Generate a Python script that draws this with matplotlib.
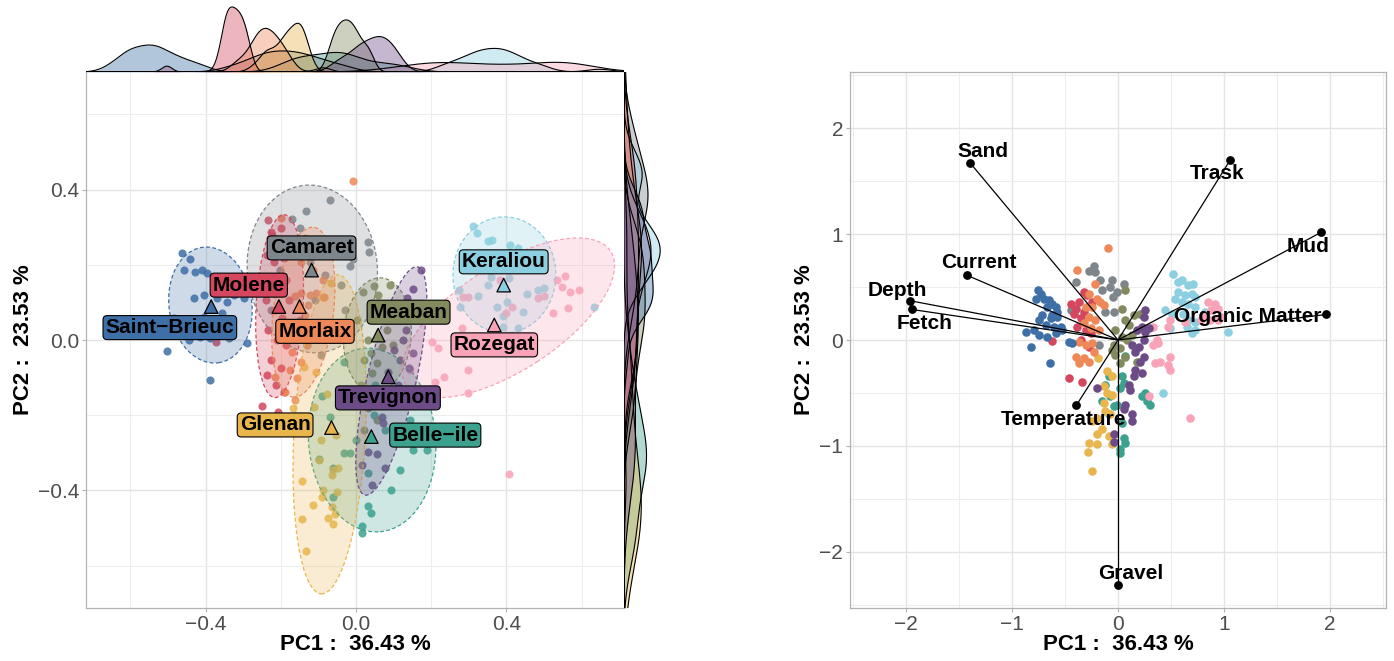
import numpy as np
import matplotlib
matplotlib.use('Agg')
import matplotlib.pyplot as plt
from matplotlib.patches import Ellipse
from matplotlib import ticker

plt.rcParams['font.family'] = ['Liberation Sans', 'DejaVu Sans']

# sites (alphabetical, as in the legend order of the original)
sites = ['Belle−ile', 'Camaret', 'Glenan', 'Keraliou', 'Meaban',
         'Molene', 'Morlaix', 'Rozegat', 'Saint−Brieuc', 'Trevignon']
site_cols = ['#3CA18F', '#7E868C', '#E8B64C', '#8BCFE0', '#838A5E',
             '#D4475E', '#EF8858', '#F9A3B8', '#3E6FA6', '#6C4B87']

# ---- left panel: individual scores (PC1, PC2) ----
bi_pc1 = [-0.089, -0.068, -0.033, -0.017, -0.097, -0.060, -0.062, 0.031, 0.039, 0.015, 0.017,
          0.153, 0.188, 0.047, 0.033, -0.033, 0.078, 0.118, -0.001, 0.092, 0.145, 0.052]
bi_pc2 = [-0.149, -0.205, -0.301, -0.301, -0.316, -0.340, -0.418, -0.441, -0.460, -0.495, -0.513,
          -0.293, -0.293, -0.199, -0.354, -0.059, -0.239, -0.346, -0.266, -0.399, -0.213, -0.120]
ca_pc1 = [-0.134, -0.169, -0.148, -0.068, 0.033, 0.036, -0.017, -0.007, -0.094, -0.055, -0.121,
          -0.081, -0.041, -0.174, -0.201, -0.108, -0.028, -0.148, -0.068, -0.129, -0.094, -0.227]
ca_pc2 = [0.343, 0.322, 0.298, 0.372, 0.261, 0.234, 0.197, 0.215, 0.266, 0.226, 0.207,
          0.173, 0.146, 0.253, 0.186, 0.106, 0.080, 0.053, 0.027, -0.013, -0.040, 0.080]
gl_pc1 = [-0.067, -0.087, -0.106, -0.138, -0.078, -0.168, -0.112, -0.052, -0.098, -0.061, -0.047, -0.063,
          -0.143, -0.087, -0.089, -0.050, -0.114, -0.063, -0.143, -0.075, -0.056, -0.061, -0.132, -0.093]
gl_pc2 = [0.152, 0.114, -0.085, -0.072, -0.144, -0.181, -0.178, -0.253, -0.319, -0.346, -0.340, -0.359,
          -0.375, -0.399, -0.418, -0.404, -0.439, -0.444, -0.476, -0.473, -0.463, -0.489, -0.561, -0.266]
ke_pc1 = [0.312, 0.323, 0.350, 0.363, 0.411, 0.430, 0.358, 0.406, 0.352, 0.275, 0.326,
          0.403, 0.376, 0.278, 0.456, 0.485, 0.499, 0.445, 0.390, 0.432, 0.392, 0.632]
ke_pc2 = [0.303, 0.285, 0.263, 0.266, 0.253, 0.245, 0.168, 0.165, 0.146, 0.133, 0.117,
          0.101, 0.088, 0.088, 0.122, 0.133, 0.138, 0.074, 0.064, 0.032, 0.035, 0.088]
me_pc1 = [0.049, 0.059, 0.091, 0.018, 0.073, 0.039, 0.099, 0.033, 0.070, 0.039, 0.021,
          0.056, 0.044, 0.013, 0.033, 0.082, 0.004, 0.099, 0.065, 0.021, 0.056]
me_pc2 = [0.144, 0.120, 0.146, 0.128, 0.093, 0.066, 0.059, 0.000, -0.019, -0.035, -0.053,
          -0.061, -0.088, -0.120, -0.181, 0.027, 0.053, -0.013, -0.146, -0.239, -0.213]
mo_pc1 = [-0.234, -0.225, -0.200, -0.236, -0.219, -0.192, -0.229, -0.207, -0.185, -0.239, -0.214, -0.196,
          -0.234, -0.210, -0.185, -0.225, -0.200, -0.236, -0.213, -0.192, -0.251, -0.208, -0.371, -0.178, -0.222]
mo_pc2 = [0.319, 0.287, 0.298, 0.226, 0.207, 0.218, 0.146, 0.133, 0.160, 0.106, 0.080, 0.059,
          0.027, 0.000, -0.013, -0.053, -0.074, -0.093, -0.120, -0.138, -0.176, -0.191, -0.005, 0.106, 0.279]
ml_pc1 = [-0.009, -0.200, -0.136, -0.107, -0.145, -0.114, -0.088, -0.162, -0.145, -0.122, -0.105, -0.085,
          -0.136, -0.110, -0.159, -0.131, -0.171, -0.145, -0.214, -0.176, -0.157, -0.188, -0.162, -0.128]
ml_pc2 = [0.423, 0.324, 0.271, 0.253, 0.207, 0.186, 0.160, 0.117, 0.125, 0.120, 0.125, 0.114,
          0.066, 0.040, 0.021, -0.013, -0.032, -0.059, -0.098, -0.080, -0.101, -0.138, -0.160, 0.093]
ro_pc1 = [0.536, 0.557, 0.549, 0.570, 0.592, 0.565, 0.525, 0.499, 0.485, 0.416, 0.398, 0.286,
          0.299, 0.283, 0.203, 0.217, 0.299, 0.233, 0.211, 0.384, 0.297, 0.408, 0.145]
ro_pc2 = [0.160, 0.170, 0.141, 0.128, 0.133, 0.085, 0.072, 0.117, 0.112, 0.088, 0.072, 0.114,
          0.114, 0.032, -0.005, -0.021, -0.080, -0.098, -0.112, 0.160, -0.141, -0.356, -0.080]
sb_pc1 = [-0.462, -0.442, -0.458, -0.427, -0.409, -0.396, -0.431, -0.405, -0.369, -0.343, -0.325, -0.298, -0.356,
          -0.405, -0.458, -0.471, -0.445, -0.414, -0.387, -0.338, -0.289, -0.502, -0.389, -0.374, -0.485]
sb_pc2 = [0.232, 0.215, 0.186, 0.182, 0.186, 0.177, 0.111, 0.120, 0.111, 0.102, 0.120, 0.111, 0.071,
          0.062, 0.035, 0.013, 0.000, 0.009, 0.005, 0.005, -0.009, -0.029, -0.106, 0.049, 0.058]
tr_pc1 = [0.172, 0.153, 0.137, 0.158, 0.118, 0.126, 0.153, 0.140, 0.100, 0.113, 0.092,
          0.070, 0.073, 0.105, 0.057, 0.031, 0.078, 0.017, 0.044, 0.118, 0.132, 0.086]
tr_pc2 = [0.186, 0.136, 0.112, 0.080, 0.053, 0.000, -0.035, -0.074, -0.027, -0.120, -0.160,
          -0.205, -0.221, -0.253, -0.303, -0.298, -0.340, -0.332, -0.386, -0.053, 0.027, -0.085]

# site centroids (triangles)
cent_pc1 = [0.041, -0.118, -0.065, 0.393, 0.059, -0.205, -0.150, 0.368, -0.385, 0.086]
cent_pc2 = [-0.257, 0.186, -0.233, 0.146, 0.013, 0.089, 0.089, 0.040, 0.089, -0.098]

# 95% ellipses: centre, axes lengths, rotation (deg)
ell_cx = [0.043, -0.116, -0.070, 0.395, 0.057, -0.203, -0.140, 0.405, -0.387, 0.094]
ell_cy = [-0.266, 0.189, -0.251, 0.173, 0.013, 0.090, 0.074, 0.059, 0.093, -0.109]
ell_w = [0.338, 0.346, 0.190, 0.274, 0.180, 0.125, 0.160, 0.650, 0.220, 0.130]
ell_h = [0.490, 0.447, 0.850, 0.309, 0.305, 0.487, 0.455, 0.280, 0.310, 0.623]
ell_ang = [5, 5, -3, 0, -4, -3, -7, 33, 8, -13]

# ---- right panel: biplot scores ----
bi_b1 = [0.038, 0.053, 0.022, -0.119, -0.088, -0.041, -0.009, -0.088, 0.038, 0.053,
         0.022, 0.069, 0.225, 0.272, 0.303, 0.256, -0.072, -0.150, 0.069, 0.020]
bi_b2 = [-0.344, -0.406, -0.453, -0.422, -0.344, -0.625, -0.609, -0.703, -0.781, -0.922,
         -1.031, -0.969, -0.531, -0.578, -0.609, -0.500, -0.531, -0.578, -0.150, -1.070]
ca_b1 = [-0.228, -0.275, -0.213, -0.400, -0.166, -0.056, -0.072, 0.053, -0.009, -0.050,
         -0.119, -0.041, -0.447, -0.181, -0.150]
ca_b2 = [0.703, 0.656, 0.641, 0.547, 0.563, 0.563, 0.500, 0.531, 0.453, 0.406,
         0.266, 0.266, 0.281, -0.047, 0.469]
gl_b1 = [-0.103, -0.056, -0.134, -0.056, -0.103, -0.197, -0.244, -0.119, -0.072, -0.150,
         -0.088, -0.056, -0.275, -0.197, -0.188, -0.134, -0.250, -0.200, -0.280]
gl_b2 = [-0.297, -0.344, -0.438, -0.516, -0.500, -0.734, -0.766, -0.672, -0.703, -0.844,
         -0.906, -0.984, -0.969, -0.891, -0.166, -0.594, -1.240, -0.980, -1.060]
ke_b1 = [0.522, 0.569, 0.600, 0.663, 0.709, 0.569, 0.631, 0.694, 0.538, 0.600, 0.663, 0.725, 0.444,
         0.506, 0.616, 0.663, 0.819, 0.725, 0.834, 0.647, 0.725, 0.694, 0.491, 0.428, 1.040, 0.730]
ke_b2 = [0.625, 0.547, 0.563, 0.516, 0.531, 0.453, 0.422, 0.438, 0.391, 0.359, 0.344, 0.313, 0.281,
         0.250, 0.250, 0.188, 0.266, 0.172, 0.219, 0.125, 0.094, 0.063, 0.109, -0.500, 0.080, 0.410]
me_b1 = [0.063, 0.038, 0.069, 0.100, 0.147, -0.025, 0.038, 0.084, -0.041, 0.022, 0.069,
         -0.025, 0.022, 0.178, 0.131, 0.209, -0.056]
me_b2 = [0.475, 0.297, 0.188, 0.141, 0.234, 0.094, 0.031, 0.000, -0.047, -0.078, -0.156,
         -0.141, -0.219, -0.203, 0.047, 0.250, -0.094]
mo_b1 = [-0.322, -0.291, -0.369, -0.447, -0.400, -0.322, -0.353, -0.384, -0.306, -0.259,
         -0.619, -0.463, -0.338, -0.275, -0.353, -0.244, -0.416]
mo_b2 = [0.453, 0.422, 0.359, 0.338, 0.297, 0.266, 0.203, 0.125, 0.094, 0.063,
         -0.009, -0.359, -0.400, -0.063, 0.000, 0.359, 0.250]
ml_b1 = [-0.094, -0.384, -0.213, -0.275, -0.197, -0.244, -0.166, -0.306, -0.275, -0.213, -0.322,
         -0.259, -0.181, -0.369, -0.306, -0.244, -0.400, -0.322, -0.275, -0.369, -0.228, -0.134]
ml_b2 = [0.869, 0.663, 0.525, 0.438, 0.391, 0.313, 0.359, 0.313, 0.219, 0.188, 0.156,
         0.109, 0.094, -0.016, -0.047, -0.031, -0.156, -0.172, -0.203, -0.219, -0.109, 0.328]
ro_b1 = [0.850, 0.913, 0.944, 0.881, 0.819, 0.866, 0.944, 0.975, 0.788, 0.631, 0.491, 0.475,
         0.334, 0.366, 0.334, 0.381, 0.350, 0.491, 0.475, 0.491, 0.397, 0.678, 0.288]
ro_b2 = [0.359, 0.344, 0.297, 0.281, 0.234, 0.188, 0.188, 0.219, 0.188, 0.172, 0.188, 0.125,
         0.125, 0.000, -0.047, -0.031, -0.219, -0.156, -0.234, -0.281, -0.203, -0.734, -0.531]
sb_b1 = [-0.759, -0.728, -0.697, -0.650, -0.619, -0.588, -0.666, -0.713, -0.634, -0.572, -0.744, -0.681, -0.603,
         -0.541, -0.791, -0.869, -0.744, -0.666, -0.588, -0.822, -0.463, -0.431, -0.644, -0.572, -0.775, -0.619, -0.525]
sb_b2 = [0.475, 0.438, 0.391, 0.375, 0.344, 0.313, 0.313, 0.234, 0.203, 0.219, 0.188, 0.141, 0.125,
         0.125, 0.094, 0.078, 0.047, 0.031, 0.063, -0.063, -0.016, -0.031, -0.219, 0.266, 0.391, 0.234, 0.094]
tr_b1 = [0.256, 0.241, 0.225, 0.178, 0.256, 0.131, 0.194, 0.163, 0.241, 0.209, 0.163, 0.147,
         0.225, 0.100, 0.116, 0.069, 0.053, 0.131, -0.041, -0.197, 0.241, 0.288, -0.040, 0.130]
tr_b2 = [0.281, 0.219, 0.125, 0.094, 0.078, -0.047, -0.063, -0.109, -0.156, -0.203, -0.281, -0.344,
         -0.313, -0.422, -0.469, -0.609, -0.656, -0.703, -0.891, -0.453, 0.000, 0.109, -0.960, -0.760]

# variable loadings
var_names = ['Sand', 'Trask', 'Mud', 'Organic Matter', 'Current', 'Depth', 'Fetch', 'Temperature', 'Gravel']
load_pc1 = [-1.393, 1.059, 1.917, 1.967, -1.426, -1.960, -1.944, -0.393, 0.000]
load_pc2 = [1.668, 1.699, 1.016, 0.241, 0.611, 0.370, 0.288, -0.616, -2.314]

pc1_list = [bi_pc1, ca_pc1, gl_pc1, ke_pc1, me_pc1, mo_pc1, ml_pc1, ro_pc1, sb_pc1, tr_pc1]
pc2_list = [bi_pc2, ca_pc2, gl_pc2, ke_pc2, me_pc2, mo_pc2, ml_pc2, ro_pc2, sb_pc2, tr_pc2]
b1_list = [bi_b1, ca_b1, gl_b1, ke_b1, me_b1, mo_b1, ml_b1, ro_b1, sb_b1, tr_b1]
b2_list = [bi_b2, ca_b2, gl_b2, ke_b2, me_b2, mo_b2, ml_b2, ro_b2, sb_b2, tr_b2]

# label placement (repelled positions)
site_lab_x = [0.211, -0.118, -0.215, 0.393, 0.140, -0.285, -0.109, 0.368, -0.495, 0.085]
site_lab_y = [-0.253, 0.245, -0.226, 0.208, 0.074, 0.146, 0.023, -0.013, 0.033, -0.154]
var_lab_x = [-1.277, 0.934, 1.792, 1.221, -1.310, -2.086, -1.822, -0.518, 0.116]
var_lab_y = [1.780, 1.574, 0.887, 0.226, 0.730, 0.470, 0.157, -0.748, -2.200]


def kde_nrd0(v, grid):
    v = np.asarray(v)
    sd = v.std(ddof=1)
    iqr = np.subtract(*np.percentile(v, [75, 25]))
    bw = 0.9 * min(sd, iqr / 1.34) * len(v) ** -0.2
    z = (grid[:, None] - v[None, :]) / bw
    return np.exp(-0.5 * z ** 2).sum(axis=1) / (len(v) * bw * np.sqrt(2 * np.pi))


def minus_fmt(fmt):
    return ticker.FuncFormatter(lambda v, p: fmt.format(v).replace('-', '\u2212'))


def style_axes(a, major, minor, fmt):
    a.set_xticks(major)
    a.set_yticks(major)
    a.set_xticks(minor, minor=True)
    a.set_yticks(minor, minor=True)
    a.xaxis.set_major_formatter(minus_fmt(fmt))
    a.yaxis.set_major_formatter(minus_fmt(fmt))
    a.grid(True, which='major', color='#E4E4E4', lw=1.0)
    a.grid(True, which='minor', color='#EDEDED', lw=0.8)
    a.set_axisbelow(True)
    a.tick_params(which='major', labelsize=15, labelcolor='#4D4D4D', color='#B3B3B3',
                  length=3, width=0.8, pad=2)
    a.tick_params(which='minor', length=0)


fig = plt.figure(figsize=(13.94, 6.61), dpi=100)
ax = fig.add_axes([0.06169, 0.08018, 0.38594, 0.81089])
ax_top = fig.add_axes([0.06169, 0.89107, 0.38594, 0.10136])
ax_rt = fig.add_axes([0.44763, 0.08018, 0.02726, 0.81089])
ax2 = fig.add_axes([0.60976, 0.08018, 0.38451, 0.81089])

# ---- left: scores + ellipses ----
for i, s in enumerate(sites):
    ax.scatter(pc1_list[i], pc2_list[i], s=34, color=site_cols[i], alpha=0.85, lw=0, zorder=2)
for i, s in enumerate(sites):
    ax.add_patch(Ellipse((ell_cx[i], ell_cy[i]), ell_w[i], ell_h[i], angle=ell_ang[i],
                         fc=site_cols[i], ec='none', alpha=0.25, zorder=3))
    ax.add_patch(Ellipse((ell_cx[i], ell_cy[i]), ell_w[i], ell_h[i], angle=ell_ang[i],
                         fill=False, ec=site_cols[i], ls=(0, (3, 2)), lw=0.9, zorder=3))
ax.scatter(cent_pc1, cent_pc2, marker='^', s=95, c=site_cols, edgecolors='black', lw=0.9, zorder=4)
for i, s in enumerate(sites):
    ax.text(site_lab_x[i], site_lab_y[i], s, ha='center', va='center', fontsize=15,
            fontweight='bold', zorder=5,
            bbox=dict(boxstyle='round,pad=0.12,rounding_size=0.2', fc=site_cols[i], ec='black', lw=0.8))

ax.set_xlim(-0.718, 0.713)
ax.set_ylim(-0.713, 0.713)
style_axes(ax, [-0.4, 0.0, 0.4], [-0.6, -0.2, 0.2, 0.6], '{:.1f}')
for side in ['top', 'right']:
    ax.spines[side].set_visible(False)
for side in ['left', 'bottom']:
    ax.spines[side].set_color('#B3B3B3')
    ax.spines[side].set_linewidth(0.9)
ax.set_xlabel('PC1 :  36.43 %', fontsize=16, fontweight='bold', labelpad=0)
ax.set_ylabel('PC2 :  23.53 %', fontsize=16, fontweight='bold', labelpad=3)

# ---- marginal densities (own scales, 5% expansion, density over full scale) ----
all_x = np.concatenate(pc1_list)
all_y = np.concatenate(pc2_list)
rx = all_x.max() - all_x.min()
ry = all_y.max() - all_y.min()
xlo, xhi = all_x.min() - 0.05 * rx, all_x.max() + 0.05 * rx
ylo, yhi = all_y.min() - 0.05 * ry, all_y.max() + 0.05 * ry
gx = np.linspace(xlo, xhi, 600)
gy = np.linspace(ylo, yhi, 600)
dmax_x = 0
dmax_y = 0
for i, s in enumerate(sites):
    dx = kde_nrd0(pc1_list[i], gx)
    dy = kde_nrd0(pc2_list[i], gy)
    dmax_x = max(dmax_x, dx.max())
    dmax_y = max(dmax_y, dy.max())
    ax_top.fill_between(gx, 0, dx, color=site_cols[i], alpha=0.4, lw=0)
    ax_top.plot(gx, dx, color='black', lw=0.8)
    ax_rt.fill_betweenx(gy, 0, dy, color=site_cols[i], alpha=0.4, lw=0)
    ax_rt.plot(dy, gy, color='black', lw=0.8)
ax_top.set_xlim(xlo, xhi)
ax_top.set_ylim(0, dmax_x * 1.03)
ax_rt.set_ylim(ylo, yhi)
ax_rt.set_xlim(0, dmax_y * 1.05)
ax_top.axis('off')
ax_rt.axis('off')

# ---- right: biplot ----
for i, s in enumerate(sites):
    ax2.scatter(b1_list[i], b2_list[i], s=38, color=site_cols[i], lw=0, zorder=2)
for i, v in enumerate(var_names):
    ax2.plot([0, load_pc1[i]], [0, load_pc2[i]], color='black', lw=0.9, zorder=3)
ax2.scatter(load_pc1, load_pc2, s=28, color='black', zorder=4)
for i, v in enumerate(var_names):
    ax2.text(var_lab_x[i], var_lab_y[i], v, ha='center', va='center', fontsize=15,
             fontweight='bold', zorder=5)
ax2.set_xlim(-2.53, 2.53)
ax2.set_ylim(-2.53, 2.53)
style_axes(ax2, [-2, -1, 0, 1, 2], [-2.5, -1.5, -0.5, 0.5, 1.5, 2.5], '{:.0f}')
for side in ax2.spines:
    ax2.spines[side].set_color('#B3B3B3')
    ax2.spines[side].set_linewidth(0.9)
ax2.set_xlabel('PC1 :  36.43 %', fontsize=16, fontweight='bold', labelpad=0)
ax2.set_ylabel('PC2 :  23.53 %', fontsize=16, fontweight='bold', labelpad=3)

fig.savefig('out.png', dpi=100)
